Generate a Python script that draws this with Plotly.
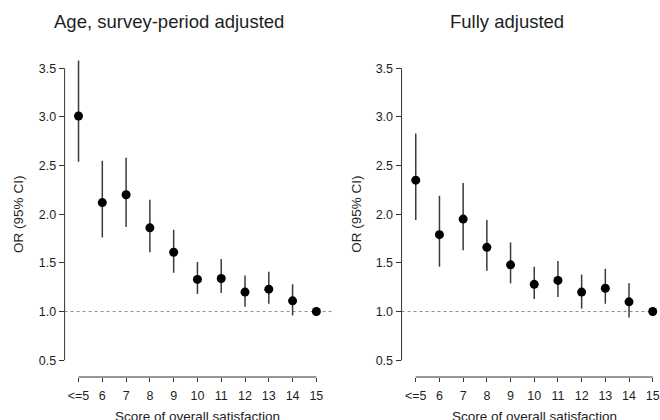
import plotly.graph_objects as go

# ---- data ----
categories = ["<=5", "6", "7", "8", "9", "10", "11", "12", "13", "14", "15"]

age_or = [3.01, 2.12, 2.20, 1.86, 1.61, 1.33, 1.34, 1.20, 1.23, 1.11, 1.00]
age_lo = [2.54, 1.76, 1.87, 1.61, 1.40, 1.18, 1.19, 1.05, 1.08, 0.96, 1.00]
age_hi = [3.58, 2.55, 2.58, 2.15, 1.84, 1.51, 1.54, 1.37, 1.41, 1.28, 1.00]

full_or = [2.35, 1.79, 1.95, 1.66, 1.48, 1.28, 1.32, 1.20, 1.24, 1.10, 1.00]
full_lo = [1.94, 1.46, 1.63, 1.42, 1.29, 1.13, 1.15, 1.03, 1.08, 0.94, 1.00]
full_hi = [2.83, 2.19, 2.32, 1.94, 1.71, 1.46, 1.52, 1.38, 1.44, 1.29, 1.00]

y_ticks = [0.5, 1.0, 1.5, 2.0, 2.5, 3.0, 3.5]
y_ticktext = ["0.5", "1.0", "1.5", "2.0", "2.5", "3.0", "3.5"]
ref_value = 1.0

panel_titles = ["Age, survey-period adjusted", "Fully adjusted"]
x_title = "Score of overall satisfaction"
y_title = "OR (95% CI)"

# ---- layout helpers ----
W, H = 660, 420
FONT = "Liberation Sans, Arial, sans-serif"
TXT = "#1e1e1e"
AX = "#333333"

positions = list(range(1, len(categories) + 1))


def px_x(p):
    return p / W


def px_y(p):
    return 1 - p / H


fig = go.Figure()

panels = [
    (age_or, age_lo, age_hi, "x", "y"),
    (full_or, full_lo, full_hi, "x2", "y2"),
]
for ors, lo, hi, xa, ya in panels:
    plus = [h - o for h, o in zip(hi, ors)]
    minus = [o - l for o, l in zip(ors, lo)]
    fig.add_trace(go.Scatter(
        x=positions, y=ors, mode="markers", xaxis=xa, yaxis=ya,
        marker=dict(size=9, color="black"),
        error_y=dict(type="data", array=plus, arrayminus=minus, symmetric=False,
                     width=0, thickness=1.5, color="#3a3a3a"),
        cliponaxis=False, showlegend=False, hoverinfo="skip",
    ))

# y axis: 0.5 at 360.2 px, 3.5 at 68.3 px
ppu = (360.2 - 68.3) / 3.0
y_bot_px, y_top_px = 377.0, 50.0
y_range = [0.5 - (y_bot_px - 360.2) / ppu, 3.5 + (68.3 - y_top_px) / ppu]
y_domain = [px_y(y_bot_px), px_y(y_top_px)]

# x axes
left_dom_px = (65.0, 335.0)
left_ppu = (318.3 - 79.0) / 10.0
left_range = [1 - (79.0 - left_dom_px[0]) / left_ppu,
              1 - (79.0 - left_dom_px[0]) / left_ppu + (left_dom_px[1] - left_dom_px[0]) / left_ppu]
right_dom_px = (404.0, 660.0)
right_ppu = (656.7 - 418.3) / 10.0
right_range = [1 - (418.3 - right_dom_px[0]) / right_ppu,
               1 - (418.3 - right_dom_px[0]) / right_ppu + (right_dom_px[1] - right_dom_px[0]) / right_ppu]

xcommon = dict(tickmode="array", tickvals=positions, ticktext=categories,
               ticks="outside", ticklen=4, tickwidth=1, tickcolor=AX,
               showline=False, showgrid=False, zeroline=False,
               ticklabeloverflow="allow", ticklabelstandoff=3,
               tickfont=dict(family=FONT, size=12.5, color=TXT))
ycommon = dict(tickmode="array", tickvals=y_ticks, ticktext=y_ticktext,
               ticks="outside", ticklen=5, tickwidth=1, tickcolor=AX,
               showline=False, showgrid=False, zeroline=False,
               range=y_range, domain=y_domain,
               tickfont=dict(family=FONT, size=12.5, color=TXT))

fig.update_layout(
    width=W, height=H, margin=dict(l=0, r=0, t=0, b=0),
    paper_bgcolor="white", plot_bgcolor="white",
    xaxis=dict(domain=[px_x(left_dom_px[0]), px_x(left_dom_px[1])], range=left_range,
               anchor="y", **xcommon),
    yaxis=dict(anchor="x", **ycommon),
    xaxis2=dict(domain=[px_x(right_dom_px[0]), px_x(right_dom_px[1])], range=right_range,
                anchor="y2", **xcommon),
    yaxis2=dict(anchor="x2", **ycommon),
)

shapes = []
for xa, ya in [("x", "y"), ("x2", "y2")]:
    # reference line
    shapes.append(dict(type="line", xref=f"{xa} domain", yref=ya, x0=0, x1=1,
                       y0=ref_value, y1=ref_value,
                       line=dict(color="#8a8a8a", width=1, dash="3px,3px"), layer="below"))
    # y axis line (from first to last tick)
    shapes.append(dict(type="line", xref=f"{xa} domain", yref=ya, x0=0, x1=0,
                       y0=y_ticks[0], y1=y_ticks[-1], line=dict(color=AX, width=1)))
    # x axis line (from first to last category)
    shapes.append(dict(type="line", xref=xa, yref=f"{ya} domain", x0=positions[0],
                       x1=positions[-1], y0=0, y1=0, line=dict(color=AX, width=1)))
fig.update_layout(shapes=shapes)

annotations = [
    dict(text=panel_titles[0], x=px_x(170), y=px_y(21), xref="paper", yref="paper",
         showarrow=False, xanchor="center", yanchor="middle",
         font=dict(family=FONT, size=18.5, color=TXT)),
    dict(text=panel_titles[1], x=px_x(510), y=px_y(21), xref="paper", yref="paper",
         showarrow=False, xanchor="center", yanchor="middle",
         font=dict(family=FONT, size=18.5, color=TXT)),
    dict(text=y_title, x=px_x(18), y=px_y(214), xref="paper", yref="paper",
         showarrow=False, textangle=-90, xanchor="center", yanchor="middle",
         font=dict(family=FONT, size=13.5, color=TXT)),
    dict(text=y_title, x=px_x(358), y=px_y(214), xref="paper", yref="paper",
         showarrow=False, textangle=-90, xanchor="center", yanchor="middle",
         font=dict(family=FONT, size=13.5, color=TXT)),
    dict(text=x_title, x=px_x(198.5), y=px_y(416), xref="paper", yref="paper",
         showarrow=False, xanchor="center", yanchor="middle",
         font=dict(family=FONT, size=13.5, color=TXT)),
    dict(text=x_title, x=px_x(537.5), y=px_y(416), xref="paper", yref="paper",
         showarrow=False, xanchor="center", yanchor="middle",
         font=dict(family=FONT, size=13.5, color=TXT)),
]
fig.update_layout(annotations=annotations)

fig.write_html("out.html", config={"displayModeBar": False},
               post_script="document.body.style.margin='0';document.body.style.overflow='hidden';")
